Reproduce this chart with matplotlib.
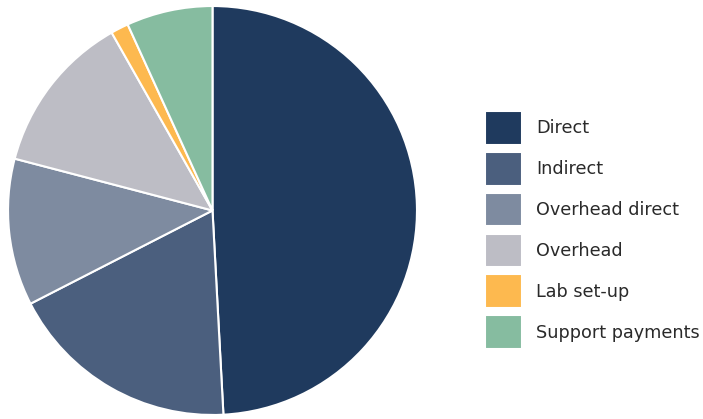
import matplotlib.pyplot as plt

categories = ['Direct', 'Indirect', 'Overhead direct', 'Overhead', 'Lab set-up', 'Support payments']
shares = [49.1, 18.3, 11.6, 12.7, 1.4, 6.8]
colors = ['#1f3a5e', '#4b5f7e', '#7e8ba0', '#bdbdc5', '#fdb94f', '#86bca0']

fig = plt.figure(figsize=(7.03, 4.19), dpi=100)

# pie on the left, about 411 px across
ax = fig.add_axes([7 / 703, 1 - 416 / 419, 411 / 703, 411 / 419])
wedges, _ = ax.pie(shares, colors=colors, startangle=90, counterclock=False, radius=1,
                   wedgeprops=dict(edgecolor='white', linewidth=1.5))
ax.set_xlim(-1.005, 1.005)
ax.set_ylim(-1.005, 1.005)
ax.set_aspect('equal')

leg = fig.legend(wedges, categories, loc='center left', bbox_to_anchor=(485 / 703, 1 - 230 / 419),
                 frameon=False, fontsize=12.7, handlelength=2.1, handleheight=2.58,
                 labelspacing=0.4, handletextpad=0.8, borderpad=0, borderaxespad=0)
for t in leg.get_texts():
    t.set_color('#2a2a2a')

fig.savefig('out.png', dpi=100)
